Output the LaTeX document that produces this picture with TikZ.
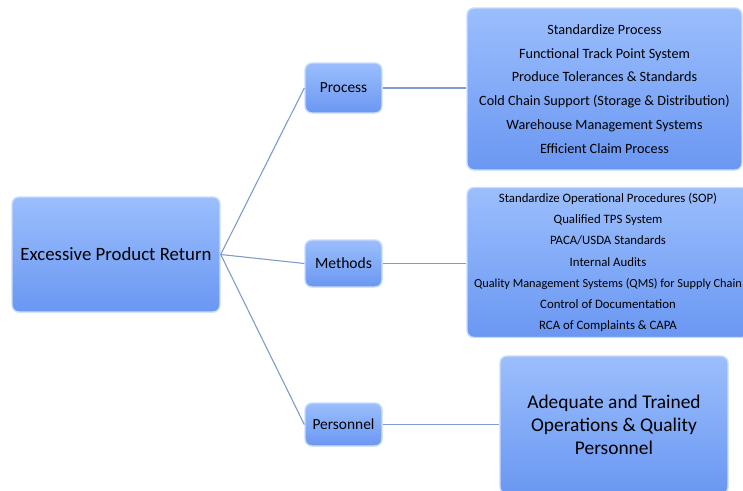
\documentclass[tikz,border=0pt]{standalone}
\usepackage{fontspec}
\setmainfont{Carlito}
\definecolor{boxtop}{HTML}{9BBEFC}
\definecolor{boxbot}{HTML}{6A97F2}
\definecolor{boxrim}{HTML}{C9DCFC}
\definecolor{linkcol}{HTML}{7F9CCB}
\tikzset{
  blockbox/.style={rounded corners=7pt,top color=boxtop,bottom color=boxbot,
    draw=boxrim,line width=1.4pt,align=center,inner sep=0pt},
  link/.style={draw=linkcol,line width=1.1pt}
}
\begin{document}
\begin{tikzpicture}
  [x=1pt,y=1pt]
  \clip (0,0) rectangle (743,-490);
  \node[blockbox,minimum width=208,minimum height=115,font=\fontsize{18.8}{22}\selectfont] (root) at (116,-254.5) {Excessive Product Return};
  \node[blockbox,minimum width=77,minimum height=50,font=\fontsize{15.4}{18}\selectfont] (process) at (343.5,-88) {Process};
  \node[blockbox,minimum width=77,minimum height=47,font=\fontsize{15.6}{18}\selectfont] (methods) at (343.5,-263.5) {Methods};
  \node[blockbox,minimum width=77,minimum height=43,font=\fontsize{15.4}{18}\selectfont] (personnel) at (343.5,-424.5) {Personnel};
  \node[blockbox,minimum width=275,minimum height=162,font=\fontsize{14.2}{23.8}\selectfont] (procitems) at (604.5,-89) {Standardize Process\\Functional Track Point System\\Produce Tolerances \& Standards\\Cold Chain Support (Storage \& Distribution)\\Warehouse Management Systems\\Efficient Claim Process};
  \node[blockbox,minimum width=282,minimum height=150,font=\fontsize{12.8}{21.2}\selectfont] (methitems) at (608,-262.5) {Standardize Operational Procedures (SOP)\\Qualified TPS System\\PACA/USDA Standards\\Internal Audits\\{\fontsize{12.3}{21.2}\selectfont Quality Management Systems (QMS) for Supply Chain}\\Control of Documentation\\RCA of Complaints \& CAPA};
  \node[blockbox,minimum width=228,minimum height=138,font=\fontsize{19.4}{23}\selectfont] (perstext) at (614,-425) {Adequate and Trained\\Operations \& Quality\\Personnel};
 \path[link]
        (root.east) edge (process.west)
        (root.east) edge (methods.west)
        (root.east) edge (personnel.west)
        (process.east) edge (procitems.west |- process.east)
        (methods.east) edge (methitems.west |- methods.east)
        (personnel.east) edge (perstext.west |- personnel.east);

\end{tikzpicture}
\end{document}
